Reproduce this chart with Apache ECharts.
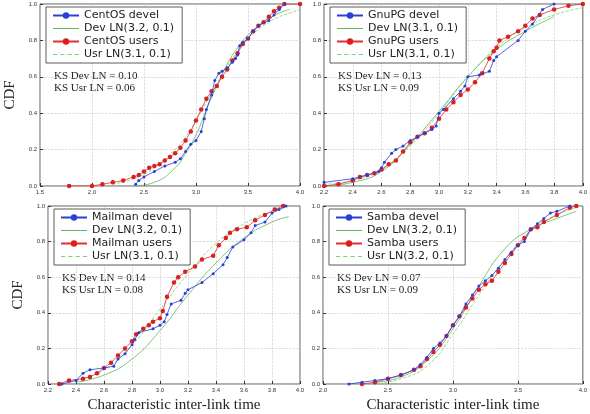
<!DOCTYPE html>
<html>
<head>
<meta charset="utf-8">
<script src="https://cdn.jsdelivr.net/npm/echarts@6/dist/echarts.min.js"></script>
<style>html,body{margin:0;padding:0;background:#fff}#chart{width:590px;height:414px}</style>
</head>
<body>
<div id="chart"></div>
<script>
// CentOS
var centosDevel = [[2.42,0.01],[2.45,0.03],[2.5,0.05],[2.6,0.08],[2.7,0.11],[2.8,0.13],[2.85,0.15],[2.9,0.19],[2.95,0.23],[3.0,0.25],[3.05,0.3],[3.08,0.37],[3.1,0.42],[3.15,0.5],[3.18,0.58],[3.22,0.62],[3.25,0.63],[3.3,0.65],[3.35,0.68],[3.38,0.7],[3.4,0.72],[3.42,0.77],[3.45,0.79],[3.5,0.81],[3.55,0.85],[3.6,0.88],[3.7,0.91],[3.75,0.94],[3.8,0.97],[3.85,1.0]];
var centosUsers = [[1.78,0.0],[2.0,0.0],[2.1,0.01],[2.2,0.02],[2.3,0.03],[2.4,0.05],[2.45,0.06],[2.5,0.08],[2.55,0.1],[2.6,0.11],[2.65,0.12],[2.7,0.14],[2.75,0.16],[2.8,0.18],[2.85,0.21],[2.9,0.25],[2.95,0.3],[3.0,0.36],[3.05,0.42],[3.1,0.48],[3.15,0.52],[3.2,0.55],[3.25,0.6],[3.3,0.64],[3.35,0.69],[3.4,0.73],[3.45,0.78],[3.5,0.81],[3.55,0.85],[3.6,0.88],[3.65,0.9],[3.7,0.93],[3.75,0.96],[3.8,0.98],[3.85,1.0],[4.0,1.0]];
var centosDevFit = [[2.4,0.0],[2.6,0.02],[2.8,0.1],[2.9,0.18],[3.0,0.28],[3.1,0.42],[3.2,0.55],[3.3,0.67],[3.4,0.76],[3.5,0.83],[3.6,0.88],[3.7,0.92],[3.8,0.95],[3.9,0.97]];
var centosUsrFit = [[2.2,0.01],[2.4,0.04],[2.6,0.1],[2.8,0.2],[2.9,0.27],[3.0,0.36],[3.1,0.46],[3.2,0.56],[3.3,0.66],[3.4,0.74],[3.5,0.81],[3.6,0.86],[3.7,0.9],[3.8,0.93],[3.9,0.95],[4.0,0.97]];
// GnuPG
var gnupgDevel = [[2.2,0.02],[2.4,0.04],[2.5,0.06],[2.58,0.08],[2.6,0.1],[2.62,0.13],[2.67,0.18],[2.7,0.2],[2.75,0.22],[2.8,0.25],[2.85,0.27],[2.9,0.29],[2.95,0.31],[2.98,0.33],[3.0,0.4],[3.03,0.42],[3.1,0.48],[3.15,0.52],[3.18,0.55],[3.2,0.6],[3.28,0.61],[3.35,0.63],[3.38,0.69],[3.4,0.71],[3.55,0.8],[3.6,0.85],[3.65,0.89],[3.72,0.97],[3.8,1.0]];
var gnupgUsers = [[2.2,0.0],[2.3,0.01],[2.4,0.03],[2.45,0.05],[2.5,0.06],[2.55,0.07],[2.6,0.09],[2.65,0.12],[2.7,0.14],[2.75,0.19],[2.8,0.24],[2.85,0.27],[2.9,0.29],[2.95,0.32],[3.0,0.37],[3.05,0.42],[3.1,0.46],[3.15,0.5],[3.2,0.53],[3.25,0.57],[3.3,0.62],[3.35,0.7],[3.38,0.74],[3.4,0.76],[3.42,0.8],[3.48,0.82],[3.55,0.85],[3.6,0.88],[3.65,0.92],[3.7,0.94],[3.8,0.97],[3.9,0.99],[4.0,1.0]];
var gnupgDevFit = [[2.2,0.0],[2.4,0.02],[2.6,0.08],[2.8,0.23],[3.0,0.41],[3.2,0.6],[3.4,0.75],[3.6,0.85],[3.8,0.93]];
var gnupgUsrFit = [[2.2,0.01],[2.4,0.03],[2.6,0.09],[2.8,0.22],[3.0,0.4],[3.2,0.6],[3.4,0.76],[3.6,0.87],[3.8,0.94],[4.0,0.98]];
// Mailman
var mailmanDevel = [[2.3,0.0],[2.4,0.02],[2.45,0.06],[2.5,0.08],[2.6,0.09],[2.67,0.1],[2.7,0.14],[2.75,0.17],[2.8,0.22],[2.82,0.25],[2.85,0.29],[2.95,0.31],[3.0,0.33],[3.03,0.35],[3.05,0.39],[3.08,0.45],[3.15,0.47],[3.18,0.51],[3.2,0.53],[3.3,0.57],[3.38,0.62],[3.45,0.67],[3.48,0.71],[3.52,0.77],[3.6,0.81],[3.65,0.85],[3.68,0.89],[3.75,0.91],[3.8,0.96],[3.85,0.98],[3.9,1.0]];
var mailmanUsers = [[2.28,0.0],[2.35,0.02],[2.45,0.03],[2.5,0.04],[2.55,0.06],[2.6,0.09],[2.65,0.12],[2.7,0.16],[2.75,0.2],[2.8,0.24],[2.83,0.28],[2.88,0.31],[2.92,0.33],[2.95,0.35],[3.0,0.37],[3.02,0.41],[3.05,0.49],[3.1,0.57],[3.13,0.6],[3.18,0.63],[3.25,0.66],[3.3,0.7],[3.38,0.72],[3.42,0.78],[3.47,0.82],[3.5,0.85],[3.55,0.87],[3.62,0.88],[3.68,0.92],[3.75,0.95],[3.82,0.98],[3.88,1.0]];
var mailmanDevFit = [[2.4,0.01],[2.6,0.05],[2.8,0.14],[3.0,0.3],[3.2,0.5],[3.4,0.68],[3.6,0.82],[3.8,0.91],[3.92,0.94]];
var mailmanUsrFit = [[2.4,0.02],[2.6,0.08],[2.8,0.22],[3.0,0.42],[3.2,0.62],[3.4,0.79],[3.6,0.9],[3.8,0.97],[3.9,0.99]];
// Samba
var sambaDevel = [[2.2,0.0],[2.3,0.01],[2.4,0.02],[2.5,0.03],[2.6,0.05],[2.7,0.08],[2.75,0.11],[2.8,0.15],[2.85,0.2],[2.9,0.23],[2.95,0.27],[3.0,0.33],[3.05,0.38],[3.1,0.45],[3.15,0.5],[3.2,0.55],[3.25,0.58],[3.3,0.61],[3.35,0.65],[3.4,0.7],[3.45,0.74],[3.5,0.78],[3.55,0.8],[3.6,0.87],[3.65,0.9],[3.7,0.93],[3.75,0.96],[3.8,0.97],[3.9,1.0]];
var sambaUsers = [[2.3,0.0],[2.4,0.01],[2.5,0.03],[2.6,0.05],[2.7,0.08],[2.75,0.1],[2.8,0.14],[2.85,0.18],[2.9,0.22],[2.95,0.27],[3.0,0.33],[3.05,0.38],[3.1,0.43],[3.15,0.48],[3.2,0.53],[3.25,0.56],[3.3,0.58],[3.35,0.63],[3.4,0.68],[3.45,0.73],[3.5,0.78],[3.55,0.82],[3.6,0.87],[3.65,0.88],[3.7,0.91],[3.8,0.95],[3.9,0.99],[3.95,1.0]];
var sambaDevFit = [[2.4,0.01],[2.6,0.04],[2.8,0.13],[3.0,0.31],[3.2,0.55],[3.4,0.76],[3.6,0.87],[3.8,0.93],[3.95,0.97]];
var sambaUsrFit = [[2.4,0.0],[2.6,0.03],[2.8,0.1],[3.0,0.28],[3.2,0.5],[3.4,0.7],[3.6,0.86],[3.8,0.95],[3.95,0.99]];

var panels = [
    { name: 'CentOS', dev: 'Dev LN(3.2, 0.1)', usr: 'Usr LN(3.1, 0.1)', ks: ['KS Dev LN = 0.10', 'KS Usr LN = 0.06'],
      data: [centosDevel, centosDevFit, centosUsers, centosUsrFit], xmin: 1.5, xmax: 4.0, step: 0.5,
      box: { left: 40, top: 4, width: 260, height: 182 } },
    { name: 'GnuPG', dev: 'Dev LN(3.1, 0.1)', usr: 'Usr LN(3.1, 0.1)', ks: ['KS Dev LN = 0.13', 'KS Usr LN = 0.09'],
      data: [gnupgDevel, gnupgDevFit, gnupgUsers, gnupgUsrFit], xmin: 2.2, xmax: 4.0, step: 0.2,
      box: { left: 324, top: 4, width: 259, height: 182 } },
    { name: 'Mailman', dev: 'Dev LN(3.2, 0.1)', usr: 'Usr LN(3.1, 0.1)', ks: ['KS Dev LN = 0.14', 'KS Usr LN = 0.08'],
      data: [mailmanDevel, mailmanDevFit, mailmanUsers, mailmanUsrFit], xmin: 2.2, xmax: 4.0, step: 0.2,
      box: { left: 48, top: 206, width: 252, height: 185 } },
    { name: 'Samba', dev: 'Dev LN(3.2, 0.1)', usr: 'Usr LN(3.2, 0.1)', ks: ['KS Dev LN = 0.07', 'KS Usr LN = 0.09'],
      data: [sambaDevel, sambaDevFit, sambaUsers, sambaUsrFit], xmin: 2.0, xmax: 4.0, step: 0.5,
      box: { left: 323, top: 206, width: 260, height: 185 } }
];

// legend icons drawn as plain line strokes for the fitted curves
var solidIcon = 'path://M0,0L26,0L26,1L0,1Z';
var dashIcon = 'path://M0,0L4,0L4,1L0,1ZM7,0L11,0L11,1L7,1ZM14,0L18,0L18,1L14,1ZM21,0L25,0L25,1L21,1Z';

var grids = [], xAxes = [], yAxes = [], series = [], legends = [], graphics = [];
var splitStyle = { show: true, lineStyle: { color: '#c8c8c8', type: 'dashed', width: 0.6 } };

panels.forEach(function (p, i) {
    grids.push(Object.assign({ show: true, borderColor: '#333', borderWidth: 0.8 }, p.box));
    xAxes.push({
        type: 'value', gridIndex: i, min: p.xmin, max: p.xmax, interval: p.step,
        axisLine: { show: false }, axisTick: { inside: true, length: 3, lineStyle: { color: '#333' } },
        splitLine: splitStyle,
        axisLabel: { fontSize: 6, color: '#333', margin: 3, formatter: function (v) { return v.toFixed(1); } },
        name: i >= 2 ? 'Characteristic inter-link time' : '', nameLocation: 'middle', nameGap: 14,
        nameTextStyle: { fontFamily: 'Liberation Serif', fontSize: 15, color: '#222' }
    });
    yAxes.push({
        type: 'value', gridIndex: i, min: 0, max: 1, interval: 0.2,
        axisLine: { show: false }, axisTick: { inside: true, length: 3, lineStyle: { color: '#333' } },
        splitLine: splitStyle,
        axisLabel: { fontSize: 6, color: '#333', margin: 3, formatter: function (v) { return v.toFixed(1); } },
        name: i % 2 === 0 ? 'CDF' : '', nameLocation: 'middle', nameGap: 22,
        nameTextStyle: { fontFamily: 'Liberation Serif', fontSize: 15, color: '#222' }
    });
    var names = [p.name + ' devel', p.dev, p.name + ' users', p.usr];
    series.push(
        { name: names[0], type: 'line', xAxisIndex: i, yAxisIndex: i, data: p.data[0], z: 4,
          symbol: 'circle', symbolSize: 3, lineStyle: { color: '#2b3fd6', width: 0.8 }, itemStyle: { color: '#2b3fd6' } },
        { name: names[1], type: 'line', xAxisIndex: i, yAxisIndex: i, data: p.data[1], smooth: true, z: 2,
          showSymbol: false, lineStyle: { color: '#5cb85c', width: 0.8 }, itemStyle: { color: '#5cb85c' } },
        { name: names[2], type: 'line', xAxisIndex: i, yAxisIndex: i, data: p.data[2], z: 3,
          symbol: 'circle', symbolSize: 4.5, lineStyle: { color: '#e03030', width: 0.8 }, itemStyle: { color: '#d82020' } },
        { name: names[3], type: 'line', xAxisIndex: i, yAxisIndex: i, data: p.data[3], smooth: true, z: 2,
          showSymbol: false, lineStyle: { color: '#7ccf7c', width: 0.8, type: 'dashed' }, itemStyle: { color: '#7ccf7c' } }
    );
    legends.push({
        data: [
            { name: names[0] },
            { name: names[1], icon: solidIcon, itemStyle: { color: '#5cb85c', borderWidth: 0 } },
            { name: names[2] },
            { name: names[3], icon: dashIcon, itemStyle: { color: '#7ccf7c', borderWidth: 0 } }
        ],
        orient: 'vertical', left: p.box.left + 6, top: p.box.top + 3,
        backgroundColor: '#fff', borderColor: '#333', borderWidth: 0.8, borderRadius: 0,
        padding: [3, 8, 3, 6], itemGap: 2, itemWidth: 26, itemHeight: 8, selectedMode: false,
        textStyle: { fontFamily: 'DejaVu Sans', fontSize: 11, color: '#222' }
    });
    graphics.push({
        type: 'text', left: p.box.left + 14, top: p.box.top + 66,
        style: { text: p.ks.join('\n'), fontFamily: 'Liberation Serif', fontSize: 11, lineHeight: 12, fill: '#222' }
    });
});

var chart = echarts.init(document.getElementById('chart'));
chart.setOption({
    animation: false,
    grid: grids, xAxis: xAxes, yAxis: yAxes, legend: legends, series: series, graphic: graphics
});
</script>
</body>
</html>
